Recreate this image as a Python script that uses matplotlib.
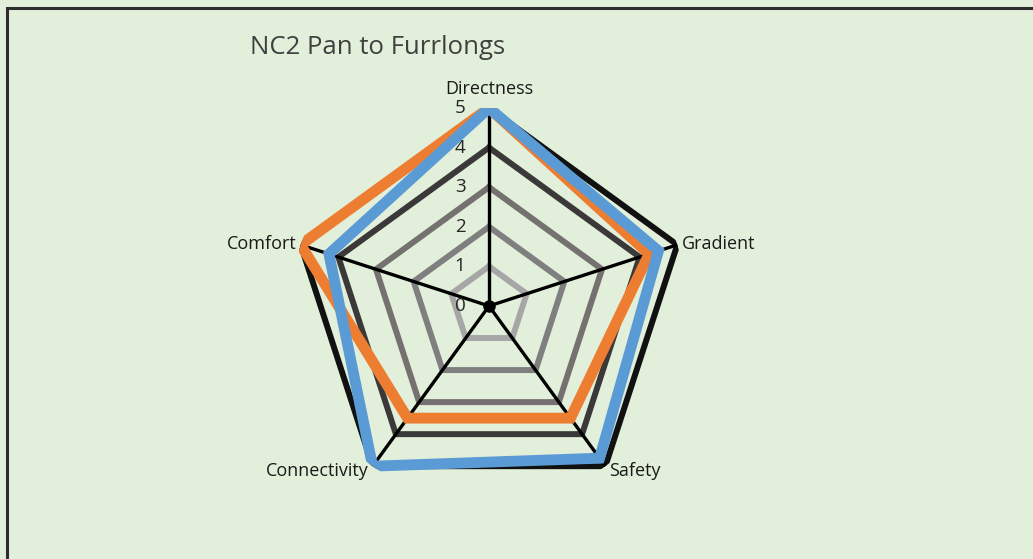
import matplotlib

matplotlib.use("Agg")
import matplotlib.pyplot as plt
import numpy as np
from matplotlib.patches import Rectangle

CATEGORIES = ["Directness", "Gradient", "Safety", "Connectivity", "Comfort"]
BLUE_SCORES = [5, 4.5, 4.75, 5, 4.25]
ORANGE_SCORES = [5, 4.25, 3.5, 3.5, 5]
RING_LEVELS = [1, 2, 3, 4, 5]
TICK_LABELS = ["0", "1", "2", "3", "4", "5"]
TITLE = "NC2 Pan to Furrlongs"

BG = "#E2EFDA"
RING_COLORS = ["#A6A6A6", "#7F7F7F", "#767171", "#3A3838", "#111111"]

W, H = 1033, 559
CX, CY, R = 489, 306, 198  # centre and outer radius in pixels

plt.rcParams["font.family"] = ["Open Sans", "DejaVu Sans"]

fig = plt.figure(figsize=(W / 100, H / 100), dpi=100)
fig.patch.set_facecolor(BG)

# chart border, runs off the right and bottom edges
fig.add_artist(Rectangle((7 / W, -0.05), 1.1, 1 - 8 / H + 0.05, transform=fig.transFigure,
                         fill=False, edgecolor="#2e2e2e", linewidth=2.2))

ax = fig.add_axes([(CX - R) / W, (H - CY - R) / H, 2 * R / W, 2 * R / H], projection="polar")
ax.set_facecolor("none")
ax.set_theta_offset(np.pi / 2)
ax.set_theta_direction(-1)
ax.set_ylim(0, 5)
ax.grid(False)
ax.spines["polar"].set_visible(False)
ax.set_xticks([])
ax.set_yticks([])

n = len(CATEGORIES)
theta = np.arange(n) * 2 * np.pi / n
closed = np.append(theta, theta[0])

# rings for each score level
for lvl, col in zip(RING_LEVELS, RING_COLORS):
    ax.plot(closed, [lvl] * (n + 1), color=col, lw=4.3, solid_joinstyle="miter", zorder=2)

# spokes
for t in theta:
    ax.plot([t, t], [0, 5], color="black", lw=2.4, zorder=3)
ax.plot([0], [0], marker="o", ms=8, color="black", zorder=3)

for scores, col, z in [(ORANGE_SCORES, "#ED7D31", 4), (BLUE_SCORES, "#5B9BD5", 5)]:
    ax.plot(closed, scores + scores[:1], color=col, lw=7.8, solid_joinstyle="miter", zorder=z)

# value labels up the Directness spoke
for v, lab in enumerate(TICK_LABELS):
    ax.annotate(lab, xy=(0, v), xytext=(-29, 0), textcoords="offset pixels",
                ha="center", va="center", fontsize=13.5, color="#262626", zorder=6)

offsets = [(0, 19, "center", "center"), (5, 1, "left", "center"), (4, -5, "left", "center"),
           (-4, -5, "right", "center"), (-4, 1, "right", "center")]
for t, lab, (dx, dy, ha, va) in zip(theta, CATEGORIES, offsets):
    ax.annotate(lab, xy=(t, 5), xytext=(dx, dy), textcoords="offset pixels",
                ha=ha, va=va, fontsize=13, color="#1a1a1a", zorder=6)

fig.text(250 / W, 1 - 48 / H, TITLE, ha="left", va="center", fontsize=18.5, color="#404040")

fig.savefig("out.png", dpi=100, facecolor=BG)
